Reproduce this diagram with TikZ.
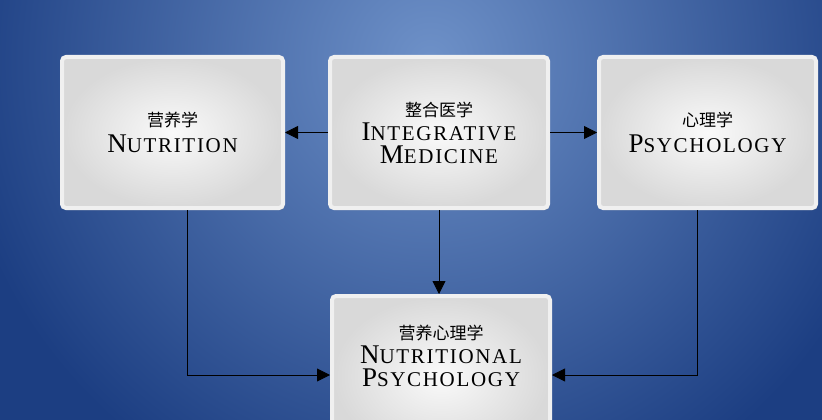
\documentclass[tikz,border=0pt]{standalone}
\usepackage{fontspec}
\setmainfont{Liberation Serif}
\newfontfamily\cjk{Noto Sans CJK SC}
\usetikzlibrary{arrows.meta,shadows}
\definecolor{bgdark}{RGB}{28,62,130}
\definecolor{bglight}{RGB}{110,145,200}
\newcommand{\SC}[2]{{\addfontfeature{LetterSpace=8}\fontsize{27}{30}\selectfont #1\fontsize{21}{30}\selectfont #2}}
\newcommand{\CJ}[1]{{\cjk\fontsize{17}{20}\selectfont #1}}
\tikzset{
  card/.style={draw=white!88!gray, line width=4pt, rounded corners=4pt,
    inner color=white!96!gray, outer color=gray!30, minimum height=151pt,
    drop shadow={shadow xshift=1.5pt,shadow yshift=-2pt,opacity=.5},
    align=center, inner sep=2pt},
  link/.style={line width=0.8pt, draw=black, -{Triangle[length=13pt,width=13pt]}},
}
\begin{document}
\begin{tikzpicture}[x=1pt,y=-1pt]
\useasboundingbox (0,0) rectangle (822,420);
\fill[bgdark] (0,0) rectangle (822,420);
\begin{scope}
\clip (0,0) rectangle (822,420);
\shade[inner color=bglight, outer color=bgdark] (430,60) circle (480);
\end{scope}
\node[card, minimum width=221pt] (nut) at (172.5,132.5) {\CJ{营养学}\\[6pt]\SC{N}{UTRITION}};
\node[card, minimum width=218pt] (im) at (439,132.5) {\CJ{整合医学}\\[4pt]\SC{I}{NTEGRATIVE}\\[4pt]\SC{M}{EDICINE}};
\node[card, minimum width=217pt] (psy) at (707.5,132.5) {\CJ{心理学}\\[6pt]\SC{P}{SYCHOLOGY}};
\node[card, minimum width=218pt, minimum height=160pt, anchor=north] (np) at (441,294) {\CJ{营养心理学}\\[4pt]\SC{N}{UTRITIONAL}\\[4pt]\SC{P}{SYCHOLOGY}\\[28pt]};
\draw[link] (im.west) -- (nut.east);
\draw[link] (im.east) -- (psy.east -| psy.west);
\draw[link] (im.south) -- (im.south |- np.north);
\coordinate (j) at (0,375);
\draw[link] (187,210) |- (np.west |- j);
\draw[link] (697,210) |- (np.east |- j);
\end{tikzpicture}
\end{document}
